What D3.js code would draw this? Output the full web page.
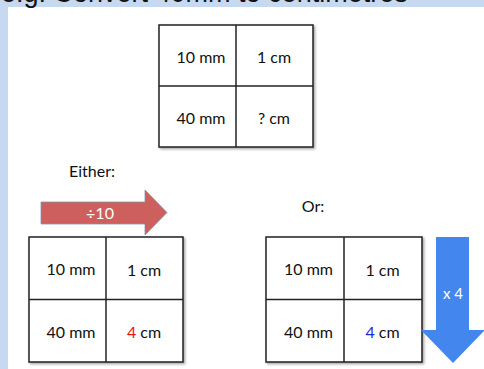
<!DOCTYPE html>
<html><head><meta charset="utf-8">
<script src="https://cdn.jsdelivr.net/npm/d3@7"></script>
<style>html,body{margin:0;padding:0;background:#fff;}svg{display:block;}</style>
</head><body>
<script>
// ---- data ----
const title = "e.g.  Convert 40mm to centimetres";
const rowsMm = ["10 mm", "40 mm"];
const colsTop = ["1 cm", "? cm"];
const answerValue = "4";
const answerUnit = " cm";
const leftLabel = "Either:";
const rightLabel = "Or:";
const divideText = "\u00f710";
const multiplyText = "x 4";

const W = 484, H = 369;
const svg = d3.select("body").append("svg").attr("width", W).attr("height", H);

const defs = svg.append("defs");
const f = defs.append("filter").attr("id","sh").attr("x","-10%").attr("y","-10%").attr("width","130%").attr("height","130%");
f.append("feDropShadow").attr("dx",1.5).attr("dy",1.5).attr("stdDeviation",1).attr("flood-color","#000").attr("flood-opacity",0.35);

// background frame
svg.append("rect").attr("width",W).attr("height",H).attr("fill","#c6d9f1");
svg.append("rect").attr("x",8).attr("y",7).attr("width",W-8).attr("height",H-7).attr("fill","#fff");

svg.append("text").attr("x",1).attr("y",2).attr("font-family","Liberation Sans, Arial, sans-serif")
  .attr("font-size",27).attr("fill","#111").text(title);

const cellFont = "Lato, 'Open Sans', sans-serif";
const fs = 16;

function table(x0, x1, y0, y1, rightCol, answerColor) {
  const xs = d3.scaleBand().domain([0,1]).range([x0,x1]);
  const ys = d3.scaleBand().domain([0,1]).range([y0,y1]);
  const g = svg.append("g");
  g.append("rect").attr("x",x0).attr("y",y0).attr("width",x1-x0).attr("height",y1-y0)
    .attr("fill","#fff").attr("stroke","#222").attr("stroke-width",1.5).attr("filter","url(#sh)");
  g.append("line").attr("x1",xs(1)).attr("x2",xs(1)).attr("y1",y0).attr("y2",y1).attr("stroke","#222").attr("stroke-width",1.5);
  g.append("line").attr("x1",x0).attr("x2",x1).attr("y1",ys(1)).attr("y2",ys(1)).attr("stroke","#222").attr("stroke-width",1.5);
  rowsMm.forEach((t,i)=>{
    g.append("text").attr("x",xs(0)+xs.bandwidth()/2 + 3.5).attr("y",ys(i)+ys.bandwidth()/2 + 1.5)
      .attr("dy","0.35em").attr("text-anchor","middle").attr("font-family",cellFont).attr("font-size",fs).attr("fill","#111").text(t);
  });
  rightCol.forEach((t,i)=>{
    const tx = g.append("text").attr("x",xs(1)+xs.bandwidth()/2 - 0.5).attr("y",ys(i)+ys.bandwidth()/2 + 2)
      .attr("dy","0.35em").attr("text-anchor","middle").attr("font-family",cellFont).attr("font-size",fs).attr("fill","#111");
    if (t === null) {
      tx.append("tspan").attr("fill",answerColor).text(answerValue);
      tx.append("tspan").text(answerUnit);
    } else tx.text(t);
  });
}

table(159, 313, 25, 147, colsTop, null);
table(29, 183, 237, 362, [colsTop[0], null], "#ee1111");
table(266, 422, 237, 362, [colsTop[0], null], "#2222dd");

svg.append("text").attr("x",92).attr("y",171).attr("dy","0.35em").attr("text-anchor","middle")
  .attr("font-family",cellFont).attr("font-size",16).attr("fill","#111").text(leftLabel);
svg.append("text").attr("x",313).attr("y",206).attr("dy","0.35em").attr("text-anchor","middle")
  .attr("font-family",cellFont).attr("font-size",16).attr("fill","#111").text(rightLabel);

// red arrow (right)
const rp = d3.path();
rp.moveTo(41,202); rp.lineTo(145,202); rp.lineTo(145,190); rp.lineTo(167,212.5);
rp.lineTo(145,235); rp.lineTo(145,224); rp.lineTo(41,224); rp.closePath();
svg.append("path").attr("d",rp.toString()).attr("fill","#cd605c").attr("stroke","#7f94b8").attr("stroke-width",0.8);
svg.append("text").attr("x",100).attr("y",213).attr("dy","0.35em").attr("text-anchor","middle")
  .attr("font-family",cellFont).attr("font-size",16).attr("fill","#fff").text(divideText);

// blue arrow (down)
const bp = d3.path();
bp.moveTo(436,237); bp.lineTo(469,237); bp.lineTo(469,330); bp.lineTo(485,330);
bp.lineTo(453,363); bp.lineTo(421,330); bp.lineTo(436,330); bp.closePath();
svg.append("path").attr("d",bp.toString()).attr("fill","#4286ee");
svg.append("text").attr("x",453).attr("y",294).attr("dy","0.35em").attr("text-anchor","middle")
  .attr("font-family",cellFont).attr("font-size",15).attr("fill","#fff").text(multiplyText);
</script>
</body></html>
